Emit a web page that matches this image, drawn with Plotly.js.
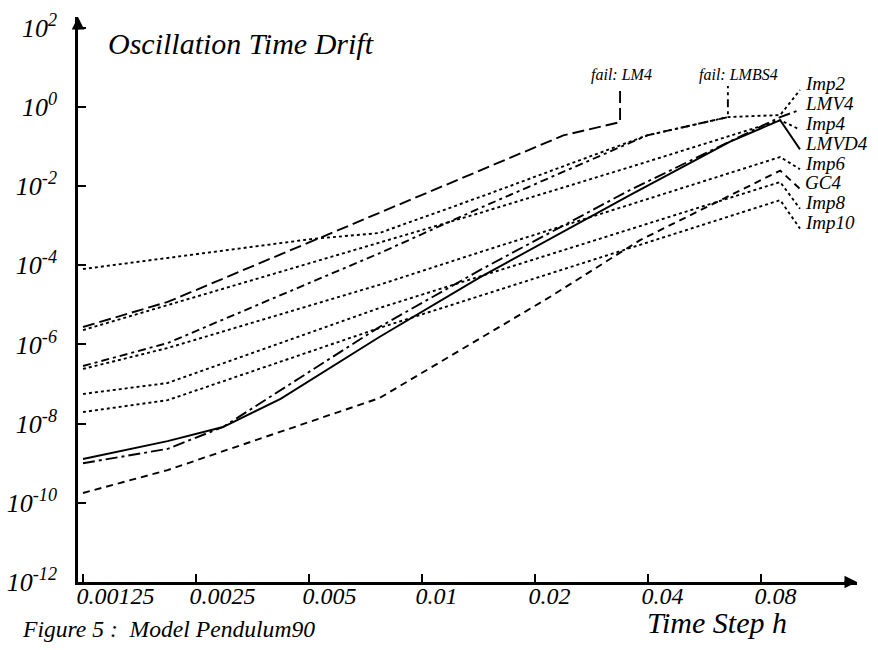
<!DOCTYPE html>
<html>
<head>
<meta charset="utf-8">
<script src="https://cdn.plot.ly/plotly-3.0.1.min.js"></script>
<style>html,body{margin:0;padding:0;background:#fff;}#chart{width:878px;height:650px;}</style>
</head>
<body>
<div id="chart"></div>
<script>
// ---- tick labels ----
const xTickVals = [0.00125, 0.0025, 0.005, 0.01, 0.02, 0.04, 0.08];
const xTickText = ['0.00125', '0.0025', '0.005', '0.01', '0.02', '0.04', '0.08'];
const yTickVals = [1e-12, 1e-10, 1e-8, 1e-6, 1e-4, 1e-2, 1, 1e2];
const yTickText = ['10<sup>-12</sup>', '10<sup>-10</sup>', '10<sup>-8</sup>', '10<sup>-6</sup>',
                   '10<sup>-4</sup>', '10<sup>-2</sup>', '10<sup>0</sup>', '10<sup>2</sup>'];

// ---- series (time step h, drift) ----
const hLM4   = [0.00125, 0.0021, 0.0077, 0.0143, 0.0238, 0.0337];
const vLM4   = [2.75e-6, 1.18e-5, 2.1e-3, 2.5e-2, 0.19, 0.41];

const hLMBS4 = [0.00125, 0.0021, 0.0077, 0.0143, 0.0398, 0.0653];
const vLMBS4 = [2.85e-7, 1.08e-6, 2.0e-4, 2.8e-3, 0.19, 0.55];

const hImp2  = [0.00125, 0.0051, 0.0077, 0.0143, 0.0398, 0.0653, 0.09];
const vImp2  = [8.0e-5, 4.6e-4, 6.5e-4, 5.3e-3, 0.19, 0.55, 0.62];

const hLMV4  = [0.00125, 0.0021, 0.00295, 0.0077, 0.0143, 0.0358, 0.09];
const vLMV4  = [1.0e-9, 2.3e-9, 8.2e-9, 2.75e-6, 7.6e-5, 7.9e-3, 0.55];

const hImp4  = [0.00125, 0.0077, 0.0143, 0.0358, 0.09];
const vImp4  = [2.3e-6, 3.6e-4, 2.1e-3, 0.030, 0.46];

const hLMVD4 = [0.00125, 0.0021, 0.00295, 0.0042, 0.0077, 0.0143, 0.0358, 0.066, 0.09];
const vLMVD4 = [1.28e-9, 3.6e-9, 8.2e-9, 4.2e-8, 1.54e-6, 5.0e-5, 5.9e-3, 0.13, 0.46];

const hImp6  = [0.00125, 0.0021, 0.0077, 0.0143, 0.09];
const vImp6  = [2.4e-7, 8.1e-7, 3.2e-5, 2.15e-4, 0.054];

const hGC4   = [0.00125, 0.0021, 0.0077, 0.0219, 0.0381, 0.09];
const vGC4   = [1.77e-10, 6.7e-10, 4.4e-8, 1.57e-5, 4.3e-4, 0.0245];

const hImp8  = [0.00125, 0.0021, 0.0077, 0.09];
const vImp8  = [5.6e-8, 1.06e-7, 8.3e-6, 0.0126];

const hImp10 = [0.00125, 0.0021, 0.0077, 0.09];
const vImp10 = [1.96e-8, 3.9e-8, 2.6e-6, 4.4e-3];

// ---- geometry helpers (layout only) ----
const L = 78, R = 857, T = 17, B = 582;
const X0 = Math.log10(0.00125) - (83 - L) / 113 * Math.log10(2);
const X1 = Math.log10(0.08) + (R - 761) / 113 * Math.log10(2);
const Y0 = -12, Y1 = -12 + (B - T) / 39.6;
function px2h(px) { return Math.pow(10, X0 + (px - L) / (R - L) * (X1 - X0)); }
function py2v(py) { return Math.pow(10, Y0 + (B - py) / (B - T) * (Y1 - Y0)); }
function pxP(px) { return (px - L) / (R - L); }
function pyP(py) { return (B - py) / (B - T); }

const FONT = 'Liberation Serif, Times New Roman, serif';
const DOT = '3px,3px';

// labelled series ending at the right-hand label column
const labelled = [
  {name: 'Imp2',  h: hImp2,  v: vImp2,  dash: DOT},
  {name: 'LMV4',  h: hLMV4,  v: vLMV4,  dash: '12px,4px,3px,4px'},
  {name: 'Imp4',  h: hImp4,  v: vImp4,  dash: DOT},
  {name: 'LMVD4', h: hLMVD4, v: vLMVD4, dash: 'solid'},
  {name: 'Imp6',  h: hImp6,  v: vImp6,  dash: DOT},
  {name: 'GC4',   h: hGC4,   v: vGC4,   dash: '7px,5px'},
  {name: 'Imp8',  h: hImp8,  v: vImp8,  dash: DOT},
  {name: 'Imp10', h: hImp10, v: vImp10, dash: DOT}
];
// failed series
const failed = [
  {name: 'LM4',   h: hLM4,   v: vLM4,   dash: '12px,5px'},
  {name: 'LMBS4', h: hLMBS4, v: vLMBS4, dash: '8px,4px,3px,4px'}
];

const traces = [];
const annotations = [];
const labelTop = 84, labelStep = 19.8;

labelled.forEach((s, i) => {
  const cy = labelTop + i * labelStep;
  traces.push({
    x: s.h.concat([px2h(800)]),
    y: s.v.concat([py2v(cy + 6)]),
    mode: 'lines', type: 'scatter', hoverinfo: 'skip',
    line: {color: '#000', width: 1.9, dash: s.dash}
  });
  annotations.push({
    xref: 'paper', yref: 'paper', x: pxP(803), y: pyP(cy),
    xanchor: 'left', yanchor: 'middle', showarrow: false,
    text: s.name, font: {family: FONT, size: 19, style: 'italic', color: '#000'}
  });
});

failed.forEach((s) => {
  const hl = s.h[s.h.length - 1];
  traces.push({
    x: s.h.concat([hl]),
    y: s.v.concat([py2v(86)]),
    mode: 'lines', type: 'scatter', hoverinfo: 'skip',
    line: {color: '#000', width: 1.9, dash: s.dash}
  });
  annotations.push({
    xref: 'x', yref: 'paper', x: Math.log10(hl), y: pyP(75),
    xanchor: 'left', yanchor: 'middle', xshift: -31, showarrow: false,
    text: 'fail: ' + s.name, font: {family: FONT, size: 16, style: 'italic', color: '#000'}
  });
});

// axis arrows
annotations.push({xref: 'paper', yref: 'paper', x: 1, y: 0, ax: -14, ay: 0, text: '',
  showarrow: true, arrowhead: 2, arrowsize: 1, arrowwidth: 2.5, arrowcolor: '#000', standoff: 0});
annotations.push({xref: 'paper', yref: 'paper', x: 0, y: 1, ax: 0, ay: 14, text: '',
  showarrow: true, arrowhead: 2, arrowsize: 1, arrowwidth: 2.5, arrowcolor: '#000', standoff: 0});

// text blocks
annotations.push({xref: 'paper', yref: 'paper', x: pxP(645), y: pyP(622),
  xanchor: 'left', yanchor: 'middle', showarrow: false, text: 'Time Step h',
  font: {family: FONT, size: 30, style: 'italic', color: '#000'}});
annotations.push({xref: 'paper', yref: 'paper', x: pxP(20), y: pyP(629),
  xanchor: 'left', yanchor: 'middle', showarrow: false,
  text: 'Figure 5 :\u00A0\u00A0Model Pendulum90',
  font: {family: FONT, size: 23.6, style: 'italic', color: '#000'}});

const layout = {
  width: 878, height: 650,
  margin: {l: L, r: 878 - R, t: T, b: 650 - B, pad: 0},
  paper_bgcolor: '#fff', plot_bgcolor: '#fff',
  showlegend: false,
  title: {text: 'Oscillation Time Drift', x: 108 / 878, xanchor: 'left', xref: 'container',
          y: 1 - 43 / 650, yanchor: 'middle', yref: 'container',
          font: {family: FONT, size: 30, style: 'italic', color: '#000'}},
  xaxis: {
    type: 'log', range: [X0, X1], tickmode: 'array', tickvals: xTickVals, ticktext: xTickText,
    ticks: 'inside', ticklen: 8, tickwidth: 2, tickcolor: '#000',
    showline: true, linewidth: 2.8, linecolor: '#000', showgrid: false, zeroline: false,
    tickfont: {family: FONT, size: 24, style: 'italic', color: '#000'},
    ticklabelposition: 'outside right', ticklabelshift: -9, ticklabelstandoff: -10,
    fixedrange: true
  },
  yaxis: {
    type: 'log', range: [Y0, Y1], tickmode: 'array', tickvals: yTickVals, ticktext: yTickText,
    ticks: 'inside', ticklen: 8, tickwidth: 2, tickcolor: '#000',
    showline: true, linewidth: 2.8, linecolor: '#000', showgrid: false, zeroline: false,
    tickfont: {family: FONT, size: 26, style: 'italic', color: '#000'},
    ticklabelstandoff: 13, fixedrange: true
  },
  annotations: annotations
};

Plotly.newPlot('chart', traces, layout, {staticPlot: true, displayModeBar: false});
</script>
</body>
</html>
